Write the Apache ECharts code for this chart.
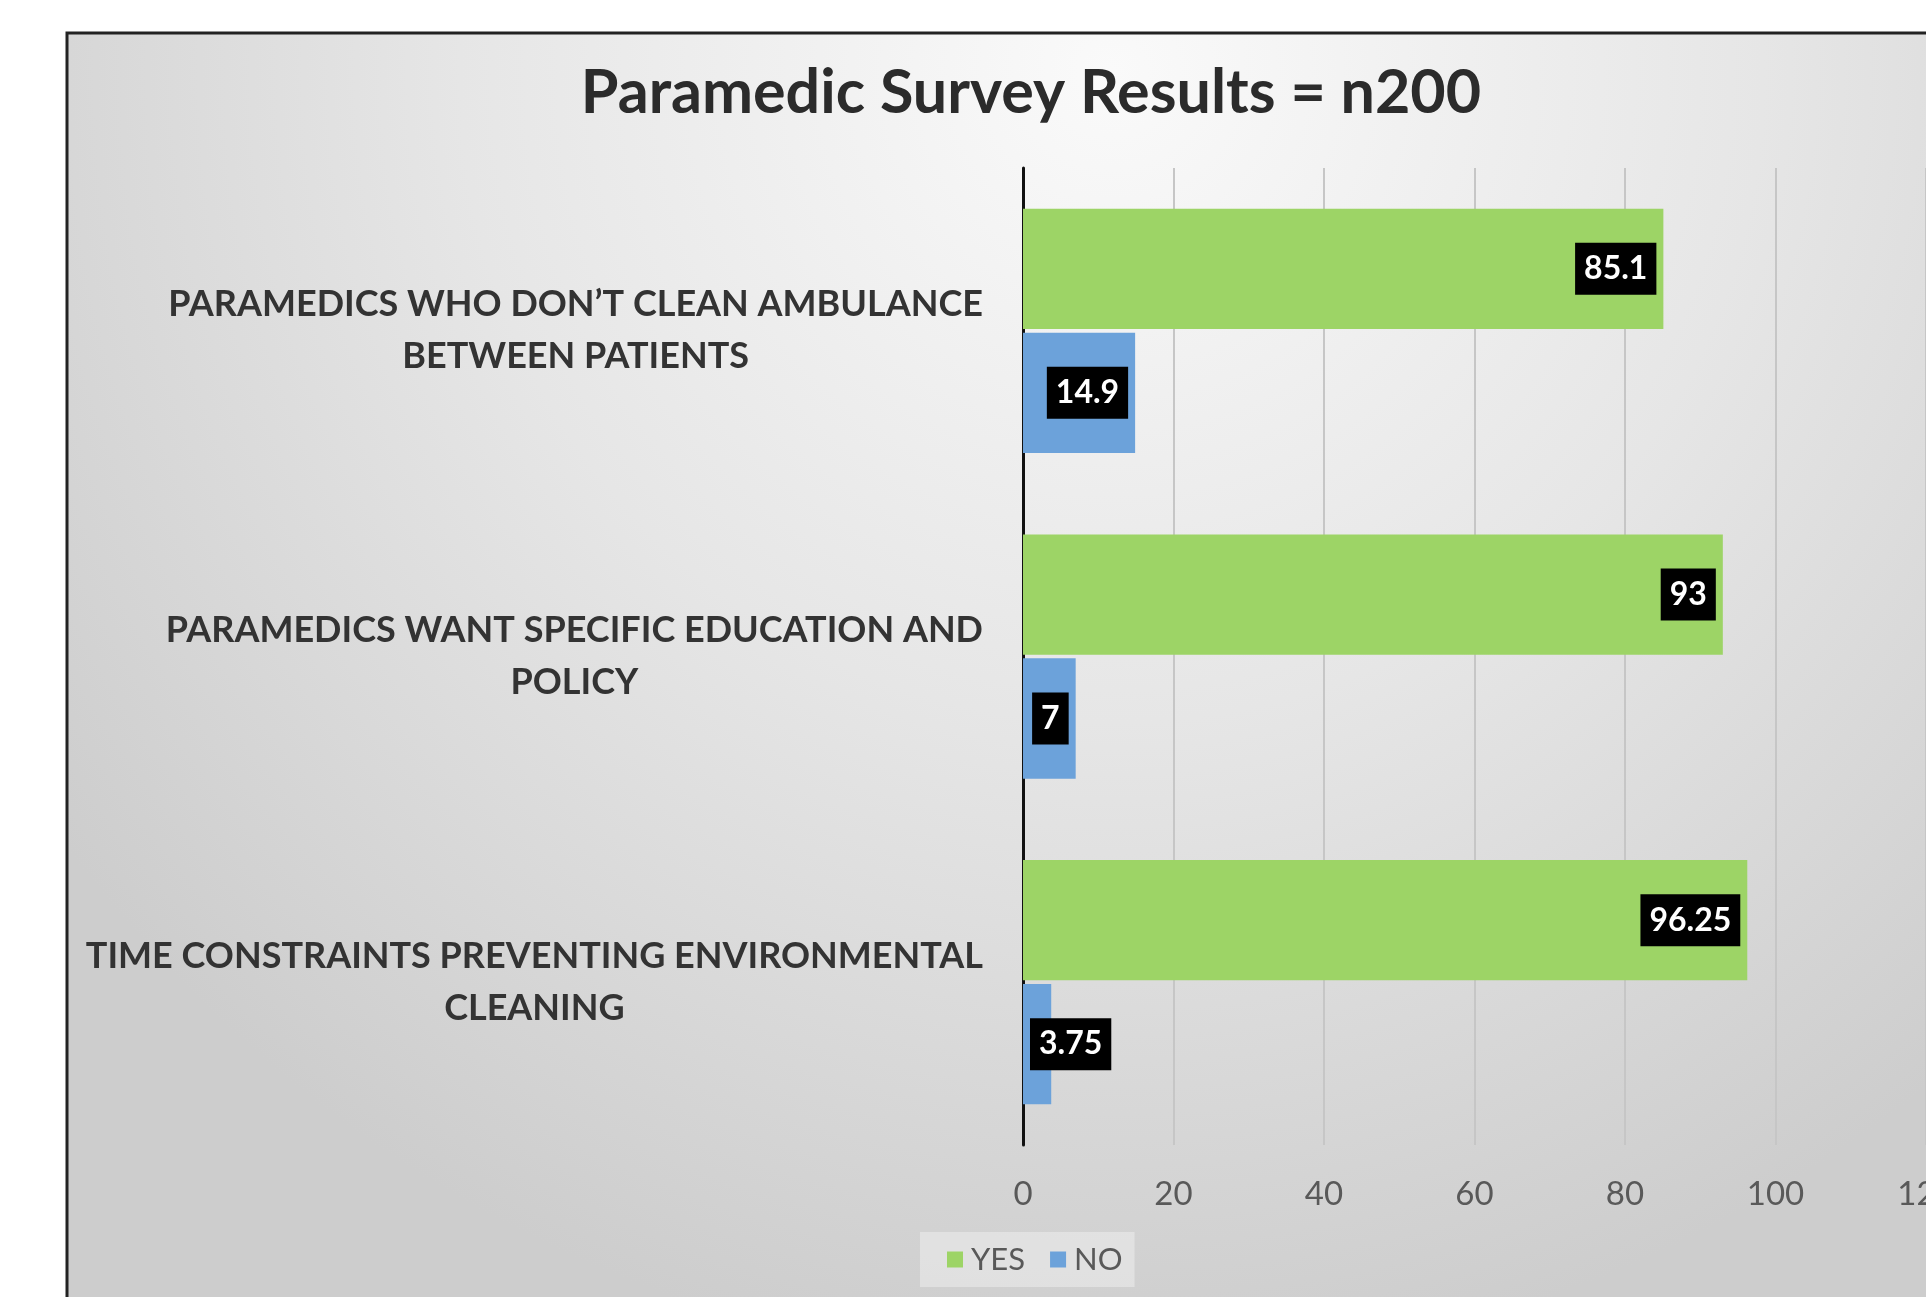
<!DOCTYPE html>
<html>
<head>
<meta charset="utf-8">
<title>Paramedic Survey Results</title>
<script src="https://cdn.jsdelivr.net/npm/echarts@6/dist/echarts.min.js"></script>
<style>
  html, body { margin: 0; padding: 0; background: #fff; }
  #chart { width: 1926px; height: 1297px; }
</style>
</head>
<body>
<div id="chart"></div>
<script>
// data
var categories = [
  "PARAMEDICS WHO DON’T CLEAN AMBULANCE\nBETWEEN PATIENTS",
  "PARAMEDICS WANT SPECIFIC EDUCATION AND\nPOLICY",
  "TIME CONSTRAINTS PREVENTING ENVIRONMENTAL\nCLEANING"
];
var yesValues = [85.1, 93, 96.25];
var noValues = [14.9, 7, 3.75];
var xTicks = [0, 20, 40, 60, 80, 100, 120];
var seriesNames = ["YES", "NO"];

var FONT = "Lato, 'Open Sans', sans-serif";

// short bars get their label at the base instead of the end
function barItems(values) {
  return values.map(function (v) {
    return { value: v, label: { position: v < 5 ? "insideLeft" : "insideRight" } };
  });
}

var labelStyle = {
  show: true,
  distance: 7,
  color: "#fff",
  fontFamily: FONT,
  fontWeight: "bold",
  fontSize: 32,
  lineHeight: 36,
  backgroundColor: "#000",
  padding: [8, 9]
};

var chart = echarts.init(document.getElementById("chart"));

var options = {
  backgroundColor: "#fff",
  animation: false,
  title: {
    text: "Paramedic Survey Results = n200",
    left: 1026,
    top: 58,
    textAlign: "center",
    textStyle: { fontFamily: FONT, fontWeight: "bold", fontSize: 61, color: "#2b2b2b" }
  },
  graphic: [{
    type: "rect",
    z: -10,
    silent: true,
    shape: { x: 67, y: 33, width: 1900, height: 1300 },
    style: {
      fill: {
        type: "radial", x: 0.55, y: 0.03, r: 1,
        colorStops: [
          { offset: 0, color: "#fafafa" },
          { offset: 0.5, color: "#e6e6e6" },
          { offset: 1, color: "#cdcdcd" }
        ]
      },
      stroke: "#222",
      lineWidth: 3
    }
  }],
  legend: {
    data: seriesNames,
    left: 920,
    top: 1232,
    icon: "rect",
    itemWidth: 16,
    itemHeight: 16,
    itemGap: 25,
    padding: [12, 12, 12, 27],
    backgroundColor: "rgba(255,255,255,0.35)",
    textStyle: { fontFamily: FONT, fontSize: 31, color: "#595959", padding: [0, 0, 0, 3] }
  },
  grid: {
    left: 1023,
    right: 0,
    top: 168,
    bottom: 152,
    containLabel: false,
    outerBoundsMode: "none"
  },
  xAxis: {
    type: "value",
    min: xTicks[0],
    max: xTicks[xTicks.length - 1],
    interval: xTicks[1] - xTicks[0],
    axisLine: { show: false },
    axisTick: { show: false },
    axisLabel: { margin: 33, fontFamily: FONT, fontSize: 33, color: "#595959" },
    splitLine: { show: true, lineStyle: { color: "#c6c6c6", width: 2 } }
  },
  yAxis: {
    type: "category",
    inverse: true,
    data: categories,
    axisLine: { show: true, lineStyle: { color: "#111", width: 3 } },
    axisTick: { show: false },
    axisLabel: {
      margin: 40,
      formatter: function (v) {
        return v.split("\n").map(function (l) { return "{c|" + l + "}"; }).join("\n");
      },
      rich: {
        c: { align: "center", fontFamily: FONT, fontWeight: "bold", fontSize: 36, lineHeight: 52, color: "#333" }
      }
    }
  },
  series: [
    {
      name: seriesNames[0],
      type: "bar",
      data: barItems(yesValues),
      itemStyle: { color: "#9dd466" },
      barCategoryGap: "25%",
      barGap: "3%",
      label: labelStyle
    },
    {
      name: seriesNames[1],
      type: "bar",
      data: barItems(noValues),
      itemStyle: { color: "#6ca2da" },
      barCategoryGap: "25%",
      barGap: "3%",
      label: labelStyle
    }
  ]
};

chart.setOption(options, true);
</script>
</body>
</html>
